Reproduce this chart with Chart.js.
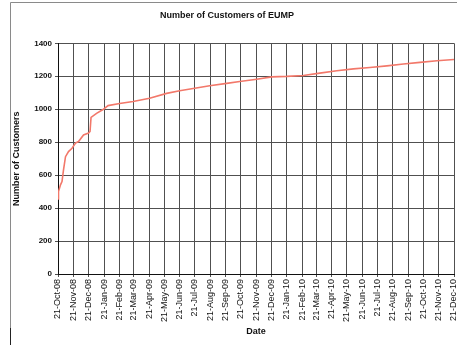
<!DOCTYPE html>
<html>
<head>
<meta charset="utf-8">
<script src="https://cdn.jsdelivr.net/npm/chart.js@4/dist/chart.umd.min.js"></script>
<style>
  html, body { margin: 0; padding: 0; background: #fff; }
  #wrap { width: 457px; height: 345px; position: relative; }
</style>
</head>
<body>
<div id="wrap"><canvas id="lineChart" width="457" height="345"></canvas></div>
<script>
// month tick labels (21st of each month)
const monthLabels = [
  '21-Oct-08', '21-Nov-08', '21-Dec-08', '21-Jan-09', '21-Feb-09', '21-Mar-09', '21-Apr-09',
  '21-May-09', '21-Jun-09', '21-Jul-09', '21-Aug-09', '21-Sep-09', '21-Oct-09', '21-Nov-09',
  '21-Dec-09', '21-Jan-10', '21-Feb-10', '21-Mar-10', '21-Apr-10', '21-May-10', '21-Jun-10',
  '21-Jul-10', '21-Aug-10', '21-Sep-10', '21-Oct-10', '21-Nov-10', '21-Dec-10'
];

// days since 21-Oct-08
const dayOffsets = [0, 1, 5, 8, 11, 15, 21, 28, 35, 41, 51, 61, 64, 66, 77, 90, 100, 123, 150,
  183, 217, 243, 273, 303, 337, 363, 397, 427, 457, 490, 523, 557, 590, 623, 657, 690, 723, 757, 791];

const customers = [455, 500, 541, 561, 632, 712, 743, 763, 794, 804, 844, 855, 865, 950, 975, 998, 1022, 1035, 1047,
  1067, 1096, 1112, 1127, 1142, 1157, 1168, 1182, 1196, 1199, 1205, 1219, 1233, 1245, 1253, 1263, 1274, 1284, 1294, 1302];

const yTicks = [0, 200, 400, 600, 800, 1000, 1200, 1400];

/*************************************************************************/
const MON = { Jan: 0, Feb: 1, Mar: 2, Apr: 3, May: 4, Jun: 5, Jul: 6, Aug: 7, Sep: 8, Oct: 9, Nov: 10, Dec: 11 };
function labelToDay (lbl) {
  const p = lbl.split('-');
  const t = Date.UTC(2000 + parseInt(p[2]), MON[p[1]], parseInt(p[0]));
  return Math.round((t - Date.UTC(2008, 9, 21)) / 86400000);
}
const tickDays = monthLabels.map(labelToDay);

const points = dayOffsets.map((d, i) => ({ x: d, y: customers[i] }));

// frame round the picture
const framePlugin = {
  id: 'frame',
  beforeDraw (chart) {
    const c = chart.ctx;
    c.save();
    c.strokeStyle = '#8a8a8a';
    c.lineWidth = 1;
    c.beginPath();
    c.moveTo(10.5, 345);
    c.lineTo(10.5, 2.5);
    c.lineTo(457, 2.5);
    c.stroke();
    c.strokeStyle = '#222';
    c.beginPath();
    c.moveTo(10.5, 328);
    c.lineTo(10.5, 345);
    c.stroke();
    c.restore();
  }
};

const ctx = document.getElementById('lineChart').getContext('2d');
window.myLineChart = new Chart(ctx, {
  type: 'line',
  data: {
    datasets: [
      {
        label: 'Customers',
        data: points,
        borderColor: '#f2786a',
        borderWidth: 1.6,
        fill: false,
        pointRadius: 0,
        tension: 0,
      },
    ],
  },
  options: {
    responsive: false,
    animation: false,
    layout: { padding: { left: 0, right: 3, top: 0, bottom: 0 } },
    plugins: {
      legend: { display: false },
      tooltip: { enabled: false },
      title: {
        display: true,
        text: 'Number of Customers of EUMP',
        color: '#111',
        font: { family: 'Liberation Sans', size: 9, weight: 'bold' },
        padding: { top: 10.5, bottom: 22 },
      },
    },
    scales: {
      x: {
        type: 'linear',
        min: 0,
        max: 791,
        afterBuildTicks: (scale) => { scale.ticks = tickDays.map(v => ({ value: v })); },
        afterFit: (scale) => {
          scale.height = 71;
          scale.paddingLeft = 0;
          scale.paddingRight = 0;
        },
        grid: { color: '#505050', lineWidth: 1, drawTicks: true, tickLength: 3 },
        border: { color: '#111' },
        ticks: {
          autoSkip: false,
          minRotation: 90,
          maxRotation: 90,
          padding: 2,
          color: '#111',
          font: { family: 'Liberation Sans', size: 9 },
          callback: (v) => monthLabels[tickDays.indexOf(v)],
        },
        title: {
          display: true,
          text: 'Date',
          color: '#111',
          font: { family: 'Liberation Sans', size: 9, weight: 'bold' },
          padding: { top: 0, bottom: 8 },
        },
      },
      y: {
        min: 0,
        max: 1400,
        afterBuildTicks: (scale) => { scale.ticks = yTicks.map(v => ({ value: v })); },
        afterFit: (scale) => { scale.width = 58; },
        grid: { color: '#505050', lineWidth: 1, tickLength: 3 },
        border: { color: '#111' },
        ticks: {
          padding: 3,
          color: '#111',
          font: { family: 'Liberation Sans', size: 8, weight: 'bold' },
          callback: (v) => String(v),
        },
        title: {
          display: true,
          text: 'Number of Customers',
          color: '#111',
          font: { family: 'Liberation Sans', size: 9, weight: 'bold' },
          padding: { top: 11.5, bottom: 0 },
        },
      },
    },
  },
  plugins: [framePlugin],
});
</script>
</body>
</html>
